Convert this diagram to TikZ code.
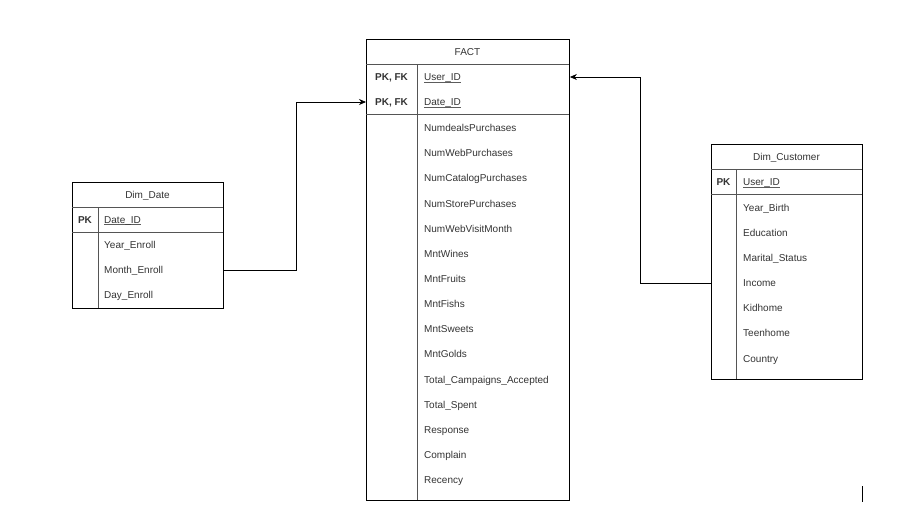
\documentclass[tikz,border=0pt]{standalone}
\usepackage{fontspec}
\setmainfont{Liberation Sans}
\usetikzlibrary{arrows.meta}
\definecolor{txt}{HTML}{333333}
\definecolor{sep}{HTML}{555555}
% key field name with a tight underline just under the baseline
\newcommand\keyname[1]{\leavevmode\setbox0\hbox{#1}%
  \rlap{\raisebox{-1.6pt}{\color{txt!80}\rule{\wd0}{0.6pt}}}\box0}
\begin{document}
\begin{tikzpicture}[x=1pt,y=-1pt,
  tbl/.style={draw=black, line width=0.9pt, inner sep=0pt, anchor=north west},
  ttl/.style={font=\fontsize{10}{12}\selectfont, text=txt, inner sep=0pt,
    text height=7.2pt, text depth=0pt},
  fld/.style={font=\fontsize{10}{12}\selectfont, text=txt, anchor=west,
    inner sep=0pt, text height=7.2pt, text depth=0pt},
  keytag/.style={font=\fontsize{10}{12}\selectfont\bfseries, text=txt,
    inner sep=0pt, text height=7.2pt, text depth=0pt},
  rowline/.style={draw=sep, line width=0.8pt},
  keyline/.style={draw=sep, line width=1.3pt},
  link/.style={draw=black, line width=0.8pt, -{Stealth[length=7pt,width=6pt]}}
]
\useasboundingbox (0,0) rectangle (921,517);

% ---------- FACT ----------
\node[tbl, minimum width=203pt, minimum height=461pt] (fact) at (366,39) {};
\draw[rowline] (366,64) -- (569,64);
\draw[keyline] (366,114.5) -- (569,114.5);
\draw[rowline] (417,64) -- (417,500);
\node[ttl] (fact-t) at (467.5,51.5) {FACT};
\node[keytag] (fact-k1) at (391.5,77) {PK, FK};
\node[keytag] (fact-k2) at (391.5,102) {PK, FK};
\node[fld] (fact-user) at (424,77) {\keyname{User\_ID}};
\node[fld] (fact-date) at (424,102) {\keyname{Date\_ID}};
\foreach \t [count=\i from 0] in {NumdealsPurchases, NumWebPurchases,
    NumCatalogPurchases, NumStorePurchases, NumWebVisitMonth, MntWines,
    MntFruits, MntFishs, MntSweets, MntGolds, Total\_Campaigns\_Accepted,
    Total\_Spent, Response, Complain, Recency}
  \node[fld] (fact-f\i) at (424,{128+25.15*\i}) {\t};

% ---------- Dim_Date ----------
\node[tbl, minimum width=151pt, minimum height=126pt] (dd) at (72,182) {};
\draw[rowline] (72,207) -- (223,207);
\draw[keyline] (72,232.5) -- (223,232.5);
\draw[rowline] (98,207) -- (98,308);
\node[ttl] (dd-t) at (147.5,194.5) {Dim\_Date};
\node[keytag] (dd-k) at (85,219.5) {PK};
\node[fld] (dd-id) at (104,219.5) {\keyname{Date\_ID}};
\node[fld] (dd-year) at (104,244.5) {Year\_Enroll};
\node[fld] (dd-month) at (104,270) {Month\_Enroll};
\node[fld] (dd-day) at (104,295) {Day\_Enroll};

% ---------- Dim_Customer ----------
\node[tbl, minimum width=151pt, minimum height=235pt] (dc) at (711,144) {};
\draw[rowline] (711,169) -- (862,169);
\draw[keyline] (711,194.5) -- (862,194.5);
\draw[rowline] (736,169) -- (736,379);
\node[ttl] (dc-t) at (786.5,157) {Dim\_Customer};
\node[keytag] (dc-k) at (723.5,182) {PK};
\node[fld] (dc-id) at (743,182) {\keyname{User\_ID}};
\foreach \t [count=\i from 0] in {Year\_Birth, Education, Marital\_Status,
    Income, Kidhome, Teenhome, Country}
  \node[fld] (dc-f\i) at (743,{207.5+25.15*\i}) {\t};

% ---------- relationships ----------
\draw[link] (dd.east |- dd-month) -- ++(72,0) |- (fact.west |- fact-date);
\draw[link] (dc.west |- dc-f3) -- ++(-71,0) |- (fact.east |- fact-user);

% stray tick at lower right
\draw[line width=1pt] (862,486) -- (862,502);
\end{tikzpicture}
\end{document}
